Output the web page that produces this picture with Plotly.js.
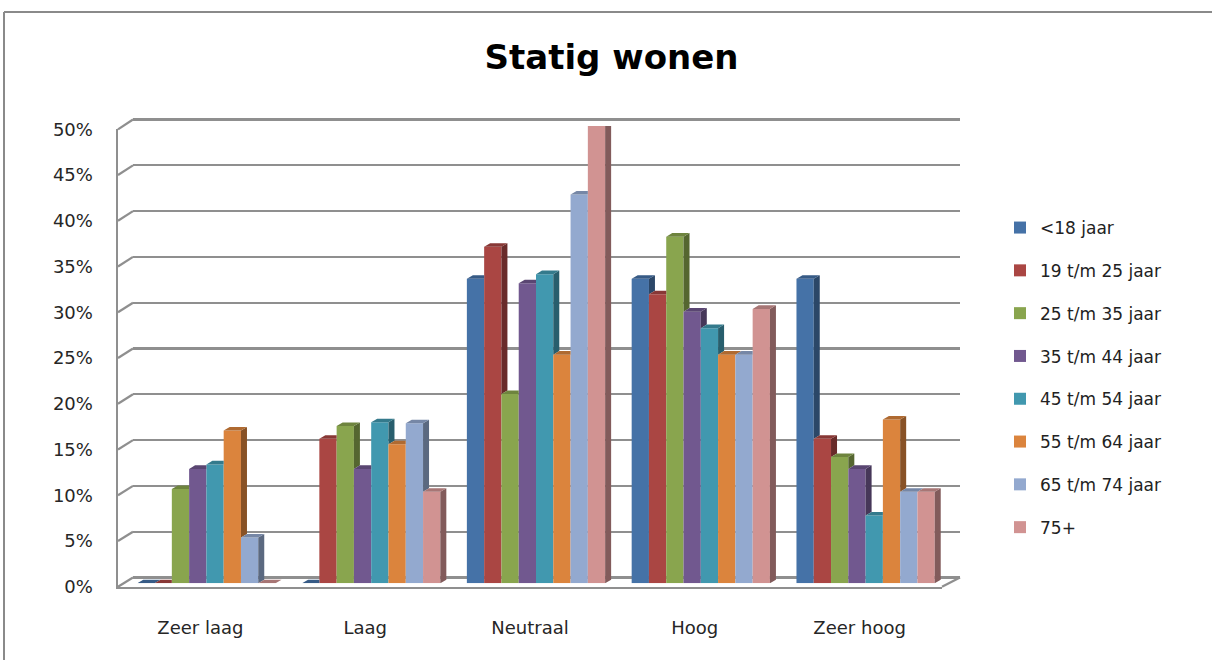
<!DOCTYPE html>
<html>
<head>
<meta charset="utf-8">
<script src="https://cdn.plot.ly/plotly-3.0.1.min.js"></script>
<style>
  html, body { margin: 0; padding: 0; background: #ffffff; }
  #chart { width: 1212px; height: 660px; }
</style>
</head>
<body>
<div id="chart"></div>
<script>
// ---- data -------------------------------------------------------------
const categories = ['Zeer laag', 'Laag', 'Neutraal', 'Hoog', 'Zeer hoog'];

const seriesNames = ['&lt;18 jaar', '19 t/m 25 jaar', '25 t/m 35 jaar', '35 t/m 44 jaar',
                     '45 t/m 54 jaar', '55 t/m 64 jaar', '65 t/m 74 jaar', '75+'];

const under18   = [0.000, 0.000, 0.333, 0.333, 0.333];
const age19to25 = [0.000, 0.158, 0.368, 0.316, 0.158];
const age25to35 = [0.103, 0.172, 0.207, 0.379, 0.138];
const age35to44 = [0.125, 0.125, 0.328, 0.297, 0.125];
const age45to54 = [0.130, 0.176, 0.338, 0.279, 0.074];
const age55to64 = [0.167, 0.152, 0.250, 0.250, 0.179];
const age65to74 = [0.050, 0.175, 0.425, 0.250, 0.100];
const age75plus = [0.000, 0.100, 0.500, 0.300, 0.100];

const yTicks     = [0, 0.05, 0.10, 0.15, 0.20, 0.25, 0.30, 0.35, 0.40, 0.45, 0.50];
const yTickTexts = ['0%', '5%', '10%', '15%', '20%', '25%', '30%', '35%', '40%', '45%', '50%'];

const seriesValues = [under18, age19to25, age25to35, age35to44,
                      age45to54, age55to64, age65to74, age75plus];

const seriesColors = ['#4572A7', '#AA4643', '#89A54E', '#71588F',
                      '#4198AF', '#DB843D', '#93A9CF', '#D19392'];

// ---- geometry of the pseudo-3D box (pixels, margins are zero) ---------
const W = 1212, H = 660;
const Y_MAX = 0.5;
const FRONT = { x0: 118, x1: 942, y0: 586.7, y1: 129.3 };   // front plane (axes + labels)
const BACK  = { x0: 133, x1: 960, y0: 577.5, y1: 119.5 };   // back wall (gridlines)
const BARS  = { x0: 124, x1: 948, y0: 583.3, y1: 126.0 };   // plane of the bar fronts
const DEPTH_DX = 6, DEPTH_DY = 3.6;                        // bar depth in pixels
const BARGAP = 0.161;
const WALL_PAD = 0.01;                                     // keeps end gridlines inside the range

const px = x => x / W;
const py = y => 1 - y / H;
const dom = p => ({ x: [px(p.x0), px(p.x1)], y: [py(p.y0), py(p.y1)] });

function shade(hex, f) {
  const n = parseInt(hex.slice(1), 16);
  const r = Math.round(((n >> 16) & 255) * f);
  const g = Math.round(((n >> 8) & 255) * f);
  const b = Math.round((n & 255) * f);
  return `rgb(${r},${g},${b})`;
}

// ---- traces -------------------------------------------------------------
const nCat = categories.length;
const nSer = seriesValues.length;
const catIdx = categories.map((_, i) => i);
const traces = [];

// front faces of the columns
seriesValues.forEach((vals, s) => {
  traces.push({
    type: 'bar', name: seriesNames[s], legendgroup: 'g' + s,
    x: catIdx, y: vals, xaxis: 'x3', yaxis: 'y3',
    marker: { color: seriesColors[s], line: { width: 0 } },
    hoverinfo: 'skip'
  });
});

// side and top faces, hidden where the next column covers them
const groupW = 1 - BARGAP;
const bw = groupW / nSer;
const dxv = DEPTH_DX / ((BARS.x1 - BARS.x0) / nCat);
const dyv = DEPTH_DY / ((BARS.y0 - BARS.y1) / Y_MAX);

function addPoly(acc, pts) {
  pts.forEach(p => { acc.x.push(p[0]); acc.y.push(p[1]); });
  acc.x.push(pts[0][0]); acc.y.push(pts[0][1]);
  acc.x.push(null); acc.y.push(null);
}

seriesValues.forEach((vals, s) => {
  const side = { x: [], y: [] };
  const top = { x: [], y: [] };
  vals.forEach((v, c) => {
    const vNext = s < nSer - 1 ? seriesValues[s + 1][c] : 0;
    const xl = c - groupW / 2 + s * bw;
    const xr = xl + bw;
    if (v > vNext) {
      addPoly(side, [[xr, vNext], [xr + dxv, vNext + dyv], [xr + dxv, v + dyv], [xr, v]]);
    }
    if (v >= vNext) {
      addPoly(top, [[xl, v], [xr, v], [xr + dxv, v + dyv], [xl + dxv, v + dyv]]);
    } else {
      addPoly(top, [[xl, v], [xr, v], [xr, v + dyv], [xl + dxv, v + dyv]]);
      if (vNext - v < dyv) {
        const f = 1 - (vNext - v) / dyv;
        addPoly(top, [[xr, vNext], [xr + f * dxv, v + dyv], [xr, v + dyv]]);
      }
    }
  });
  traces.push({
    type: 'scatter', mode: 'lines', x: side.x, y: side.y, xaxis: 'x3', yaxis: 'y3',
    fill: 'toself', fillcolor: shade(seriesColors[s], 0.62), line: { width: 0 },
    showlegend: false, hoverinfo: 'skip'
  });
  traces.push({
    type: 'scatter', mode: 'lines', x: top.x, y: top.y, xaxis: 'x3', yaxis: 'y3',
    fill: 'toself', fillcolor: shade(seriesColors[s], 0.8), line: { width: 0 },
    showlegend: false, hoverinfo: 'skip'
  });
});

// empty traces so the front plane and back wall subplots exist
traces.push({ type: 'scatter', x: [], y: [], xaxis: 'x', yaxis: 'y', showlegend: false });
traces.push({ type: 'scatter', x: [], y: [], xaxis: 'x2', yaxis: 'y2', showlegend: false });

// ---- box edges linking front plane and back wall ------------------------
const GRID = '#8f8f8f';
const shapes = [];
yTicks.forEach(t => {
  const yf = FRONT.y0 + (FRONT.y1 - FRONT.y0) * t / Y_MAX;
  const yb = BACK.y0 + (BACK.y1 - BACK.y0) * t / Y_MAX;
  shapes.push({ type: 'line', xref: 'paper', yref: 'paper', layer: 'below',
    x0: px(FRONT.x0), y0: py(yf), x1: px(BACK.x0), y1: py(yb),
    line: { color: GRID, width: 2.2 } });
});
shapes.push({ type: 'line', xref: 'paper', yref: 'paper', layer: 'below',
  x0: px(FRONT.x1), y0: py(FRONT.y0), x1: px(BACK.x1), y1: py(BACK.y0),
  line: { color: GRID, width: 2.2 } });
// chart frame
shapes.push({ type: 'line', xref: 'paper', yref: 'paper', layer: 'above',
  x0: px(4), y0: py(12), x1: px(1212), y1: py(12), line: { color: '#8a8a8a', width: 2 } });
shapes.push({ type: 'line', xref: 'paper', yref: 'paper', layer: 'above',
  x0: px(4), y0: py(12), x1: px(4), y1: py(660), line: { color: '#8a8a8a', width: 2 } });

const FONT = 'DejaVu Sans, Verdana, sans-serif';
const dF = dom(FRONT), dP = dom(BARS);

// back wall domain widened by the padding so 0% and 50% lines fall inside the range
const wallPxPerVal = (BACK.y0 - BACK.y1) / Y_MAX;
const dB = {
  x: [px(BACK.x0), px(BACK.x1)],
  y: [py(BACK.y0 + WALL_PAD * wallPxPerVal), py(BACK.y1 - WALL_PAD * wallPxPerVal)]
};

const layout = {
  width: W, height: H,
  margin: { l: 0, r: 0, t: 0, b: 0, pad: 0 },
  paper_bgcolor: '#ffffff', plot_bgcolor: 'rgba(0,0,0,0)',
  font: { family: FONT, color: '#262626' },
  title: { text: 'Statig wonen', x: 611.5 / W, xanchor: 'center', y: py(57), yanchor: 'middle',
           font: { family: FONT, size: 34, weight: 700, color: '#000000' } },
  barmode: 'group', bargap: BARGAP, bargroupgap: 0,
  showlegend: true,
  legend: { x: px(1000), xanchor: 'left', y: py(210), yanchor: 'top',
            traceorder: 'grouped', tracegroupgap: 17.7,
            font: { family: FONT, size: 17, color: '#222222' }, bgcolor: 'rgba(0,0,0,0)' },
  // front plane: axis lines and labels
  xaxis: { domain: dF.x, anchor: 'y', range: [-0.5, nCat - 0.5], fixedrange: true,
           tickvals: catIdx, ticktext: categories, ticks: '', showgrid: false, zeroline: false,
           showline: true, linecolor: GRID, linewidth: 2.5, ticklabelstandoff: 23,
           tickfont: { family: FONT, size: 18, color: '#262626' } },
  yaxis: { domain: dF.y, anchor: 'x', range: [0, Y_MAX], fixedrange: true,
           tickvals: yTicks, ticktext: yTickTexts, ticks: '', showgrid: false, zeroline: false,
           showline: true, linecolor: GRID, linewidth: 2.5, ticklabelstandoff: 19,
           tickfont: { family: FONT, size: 18, color: '#262626' } },
  // back wall: horizontal gridlines
  xaxis2: { domain: dB.x, anchor: 'y2', range: [0, 1], showgrid: false, zeroline: false,
            showticklabels: false, ticks: '', showline: false, fixedrange: true },
  yaxis2: { domain: dB.y, anchor: 'x2', range: [-WALL_PAD, Y_MAX + WALL_PAD], tickvals: yTicks,
            showgrid: true, gridcolor: GRID, gridwidth: 2.2, zeroline: false,
            showticklabels: false, ticks: '', showline: false, fixedrange: true },
  // plane of the columns
  xaxis3: { domain: dP.x, anchor: 'y3', range: [-0.5, nCat - 0.5], visible: false, fixedrange: true },
  yaxis3: { domain: dP.y, anchor: 'x3', range: [0, Y_MAX], visible: false, fixedrange: true },
  shapes: shapes
};

Plotly.newPlot('chart', traces, layout, { displayModeBar: false, staticPlot: true });
</script>
</body>
</html>
